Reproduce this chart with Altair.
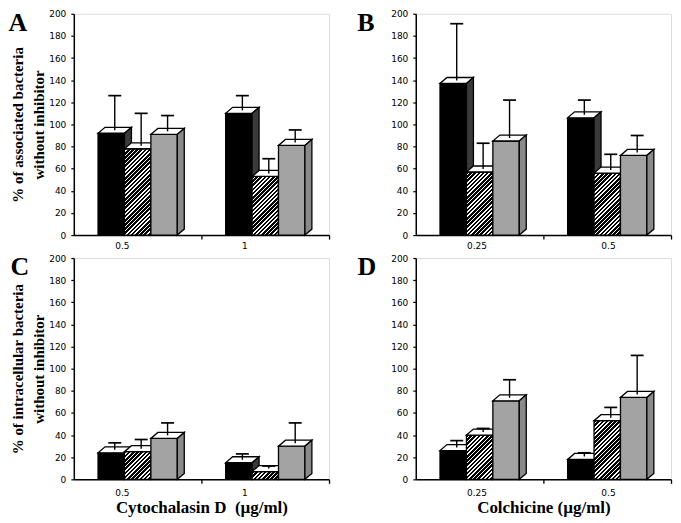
import altair as alt
import pandas as pd

# ---------------- data ----------------
cyto_doses = ["0.5", "1"]
colch_doses = ["0.25", "0.5"]
series_names = ["black", "hatched", "gray"]

# Panel A: associated bacteria, cytochalasin D
A_black = [92, 110]
A_black_sd = [34, 16]
A_hatched = [78, 53]
A_hatched_sd = [32, 16]
A_gray = [91, 81]
A_gray_sd = [17, 14]

# Panel B: associated bacteria, colchicine
B_black = [137, 106]
B_black_sd = [54, 16]
B_hatched = [57, 56]
B_hatched_sd = [26, 17]
B_gray = [85, 72]
B_gray_sd = [37, 18]

# Panel C: intracellular bacteria, cytochalasin D
C_black = [24, 15]
C_black_sd = [9, 8]
C_hatched = [25, 7]
C_hatched_sd = [11, 5]
C_gray = [37, 30]
C_gray_sd = [14, 21]

# Panel D: intracellular bacteria, colchicine
D_black = [26, 18]
D_black_sd = [9, 6]
D_hatched = [40, 53]
D_hatched_sd = [6, 12]
D_gray = [71, 74]
D_gray_sd = [19, 38]

# ---------------- layout / style ----------------
W, H = 256, 222
PXX = W / 2.0
PXY = H / 200.0
BAR_START = 0.19
BAR_W = 0.207
DX = 7 / PXX
DY = 6 / PXY
CAP = 6.5 / PXX
SERIF = "Liberation Serif"
SANS = "DejaVu Sans"
FRONT = {"black": "black", "gray": "#a3a3a3"}
SIDE = {"black": "#3a3a3a", "hatched": "#333333", "gray": "#8a8a8a"}
LW = 1.3

XS = alt.Scale(domain=[0, 2], nice=False, zero=False)
YS = alt.Scale(domain=[0, 200], nice=False)


def hatch_gradient(v):
    w = BAR_W * PXX
    h = max(v * PXY, 1.0)
    L = w + h
    s = (w + h) / (w * w + h * h)
    period, dark = 4.2, 2.6
    stops = []
    k = 0.0
    while k < L:
        a = k / L
        b = min((k + dark) / L, 1.0)
        c = min((k + period) / L, 1.0)
        stops += [
            alt.GradientStop(color="black", offset=a),
            alt.GradientStop(color="black", offset=b),
            alt.GradientStop(color="white", offset=b),
            alt.GradientStop(color="white", offset=c),
        ]
        k += period
    return alt.Gradient(gradient="linear", x1=0, y1=0, x2=w * s, y2=h * s, stops=stops)


def panel(letter, letter_x, doses, vals, sds, label_x, label_dy, ytitle, xtitle):
    xaxis = alt.Axis(values=[1, 2], labels=False, tickSize=4, tickColor="black",
                     tickWidth=1.3, domainColor="black", domainWidth=1.5, grid=False,
                     titleFont=SERIF, titleFontSize=17, titleFontWeight="bold",
                     titleColor="black", titlePadding=16)
    yaxis = alt.Axis(values=list(range(0, 201, 20)), tickSize=3, tickColor="black",
                     tickWidth=1.2, domainColor="black", domainWidth=1.5, grid=False,
                     labelFont=SANS, labelFontSize=9, labelColor="black", labelPadding=5,
                     titleFont=SERIF, titleFontSize=15, titleFontWeight="bold",
                     titleColor="black", titleLineHeight=21, titlePadding=2)

    def X(f):
        return alt.X(f"{f}:Q", scale=XS, axis=xaxis, title=xtitle)

    def Y(f):
        return alt.Y(f"{f}:Q", scale=YS, axis=yaxis, title=ytitle, stack=None)

    rows, tops, sides, errs = [], [], [], []
    for g in range(2):
        for s, name in enumerate(series_names):
            v = vals[name][g]
            e = sds[name][g]
            x0 = g + BAR_START + s * BAR_W
            x1 = x0 + BAR_W
            bar = f"{g}-{name}"
            rows.append(dict(bar=bar, series=name, g=g, v=v, base=0, x0=x0, x1=x1))
            for px, lo, hi in [(x0, v, v), (x0 + DX, v, v + DY), (x1, v, v + DY),
                               (x1 + DX, v + DY, v + DY)]:
                tops.append(dict(bar=bar, series=name, px=px, lo=lo, hi=hi))
            for px, lo, hi in [(x1, 0, v), (x1 + DX, DY, v + DY)]:
                sides.append(dict(bar=bar, series=name, px=px, lo=lo, hi=hi))
            ex = x0 + BAR_W / 2 + DX / 2
            errs.append(dict(bar=bar, ex=ex, lo=v + DY / 2, hi=v + e, c0=ex - CAP, c1=ex + CAP))
    bars = pd.DataFrame(rows)
    tops = pd.DataFrame(tops)
    sides = pd.DataFrame(sides)
    errs = pd.DataFrame(errs)

    layers = []
    for name in series_names:
        bdf = bars[bars.series == name]
        if name == "hatched":
            for _, r in bdf.iterrows():
                layers.append(
                    alt.Chart(pd.DataFrame([r])).mark_bar(
                        fill=hatch_gradient(r["v"]), stroke="black", strokeWidth=LW
                    ).encode(x=X("x0"), x2="x1:Q", y=Y("v"), y2="base:Q")
                )
        else:
            layers.append(
                alt.Chart(bdf).mark_bar(fill=FRONT[name], stroke="black", strokeWidth=LW)
                .encode(x=X("x0"), x2="x1:Q", y=Y("v"), y2="base:Q")
            )
        layers.append(
            alt.Chart(tops[tops.series == name]).mark_area(
                fill="white", stroke="black", strokeWidth=LW, strokeJoin="miter"
            ).encode(x=X("px"), y=Y("lo"), y2="hi:Q", detail="bar:N")
        )
        layers.append(
            alt.Chart(sides[sides.series == name]).mark_area(
                fill=SIDE[name], stroke="black", strokeWidth=LW, strokeJoin="miter"
            ).encode(x=X("px"), y=Y("lo"), y2="hi:Q", detail="bar:N")
        )
    layers.append(
        alt.Chart(errs).mark_rule(color="black", strokeWidth=1.4)
        .encode(x=X("ex"), y=Y("lo"), y2="hi:Q")
    )
    layers.append(
        alt.Chart(errs).mark_rule(color="black", strokeWidth=1.7)
        .encode(x=X("c0"), x2="c1:Q", y=Y("hi"))
    )
    lab = pd.DataFrame({"lx": label_x, "label": doses})
    layers.append(
        alt.Chart(lab).mark_text(font=SANS, fontSize=9, color="black", baseline="middle")
        .encode(x=X("lx"), y=alt.value(H + label_dy), text="label:N")
    )
    let = pd.DataFrame({"t": [letter]})
    layers.append(
        alt.Chart(let).mark_text(font=SERIF, fontSize=26, fontWeight="bold", color="black",
                                 align="center", baseline="alphabetic")
        .encode(x=alt.value(letter_x), y=alt.value(17.5), text="t:N")
    )
    return alt.layer(*layers).properties(width=W, height=H)


def series_dict(b, h, g):
    return {"black": b, "hatched": h, "gray": g}


pA = panel("A", -56, cyto_doses,
           series_dict(A_black, A_hatched, A_gray),
           series_dict(A_black_sd, A_hatched_sd, A_gray_sd),
           [0.38, 1.34], 11,
           ["% of associated bacteria", "without inhibitor"], None)
pB = panel("B", -50, colch_doses,
           series_dict(B_black, B_hatched, B_gray),
           series_dict(B_black_sd, B_hatched_sd, B_gray_sd),
           [0.48, 1.51], 11, None, None)
pC = panel("C", -54, cyto_doses,
           series_dict(C_black, C_hatched, C_gray),
           series_dict(C_black_sd, C_hatched_sd, C_gray_sd),
           [0.38, 1.34], 14,
           ["% of intracellular bacteria", "without inhibitor"],
           "Cytochalasin D \u00a0(\u00b5g/ml)")
pD = panel("D", -49, colch_doses,
           series_dict(D_black, D_hatched, D_gray),
           series_dict(D_black_sd, D_hatched_sd, D_gray_sd),
           [0.48, 1.51], 14, None, "Colchicine (\u00b5g/ml)")

chart = alt.concat(
    pA, pB, pC, pD, columns=2,
    spacing=alt.RowColnumber(column=87, row=23),
    bounds="flush",
).properties(
    padding={"top": 0, "left": 0, "right": 0, "bottom": 0}
).configure_view(stroke=None).configure(background="white")

chart.save("out.html", embed_options={"renderer": "svg", "actions": False})
